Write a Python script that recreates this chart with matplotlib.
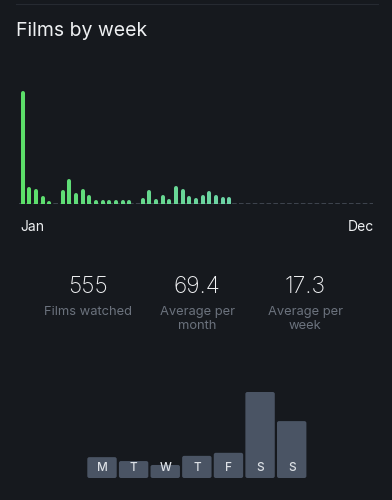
import numpy as np
import matplotlib
matplotlib.use("Agg")
import matplotlib.pyplot as plt
from matplotlib.patches import FancyBboxPatch
from matplotlib.lines import Line2D
from matplotlib.colors import to_rgb

# ---- data ----
weekly_films = [182, 24, 21, 10, 2, 0, 19, 37, 15, 22, 12, 4, 4, 4, 4, 4,
                4, 0, 7, 20, 5, 12, 5, 26, 22, 9, 6, 12, 18, 11, 8, 8]
n_weeks = 53
month_labels = ["Jan", "Dec"]
stat_values = ["555", "69.4", "17.3"]
stat_labels = ["Films watched", "Average per\nmonth", "Average per\nweek"]
days = ["M", "T", "W", "T", "F", "S", "S"]
day_films = [48, 39, 30, 51, 58, 198, 131]

BG = "#16191e"
W, H = 392, 500
fig = plt.figure(figsize=(W / 100, H / 100), dpi=100, facecolor=BG)
FONT = ["Inter", "DejaVu Sans"]

def px_axes(x0, y0, x1, y1):
    # pixel box (top-left origin) -> axes
    return fig.add_axes([x0 / W, 1 - y1 / H, (x1 - x0) / W, (y1 - y0) / H])

# faint separator at top
fig.add_artist(Line2D([16 / W, 378 / W], [1 - 4 / H, 1 - 4 / H], color="#262a31", lw=0.8))

fig.text(16 / W, 1 - 31 / H, "Films by week", color="#eef0f2", fontsize=14,
         family=FONT, va="center", ha="left")

# ---- weekly chart ----
ax = px_axes(19.4, 90, 372.9, 204)
ax.set_facecolor(BG)
vmax = max(weekly_films)
ax.set_xlim(-0.5, n_weeks - 0.5)
ax.set_ylim(0, vmax * 114 / 111.3)
ax.axhline(0, color="#4a515c", lw=1.1, dashes=(3, 1.5), zorder=1)
c0, c1 = np.array(to_rgb("#5cdf69")), np.array(to_rgb("#6dd4a6"))
n = len(weekly_films)
for i, v in enumerate(weekly_films):
    if v <= 0:
        continue
    t = i / (n - 1)
    col = c0 * (1 - t) + c1 * t
    ax.vlines(i, 0, v, colors=[col], lw=2.9, capstyle="round", zorder=2)
for s in ax.spines.values():
    s.set_visible(False)
ax.set_xticks([]); ax.set_yticks([])

fig.text(20 / W, 1 - 227 / H, month_labels[0], color="#eef0f2", fontsize=10,
         family=FONT, va="center", ha="left")
fig.text(374 / W, 1 - 227 / H, month_labels[1], color="#eef0f2", fontsize=10,
         family=FONT, va="center", ha="right")

# ---- stats ----
centers = [88, 197, 305]
for cx, val, lab in zip(centers, stat_values, stat_labels):
    fig.text(cx / W, 1 - 287 / H, val, color="#f2f3f5", fontsize=16.5,
             family=FONT, weight="light", va="center", ha="center")
    fig.text(cx / W, 1 - 306 / H, lab, color="#6b727d", fontsize=9.3,
             family=FONT, va="top", ha="center", linespacing=1.2)

# ---- day of week chart ----
ax2 = px_axes(86.2, 392, 307.5, 478)
ax2.set_facecolor(BG)
ax2.set_xlim(-0.5, len(days) - 0.5)
dmax = max(day_films)
ax2.set_ylim(0, dmax)
bars = ax2.bar(range(len(days)), day_films, width=0.93, color="#4a5464", lw=0)
fig.canvas.draw()
# rounded corners
ypp = dmax / 86.0
xpp = len(days) / 221.3
for b in bars:
    x, y, w, h = b.get_x(), b.get_y(), b.get_width(), b.get_height()
    b.set_visible(False)
    p = FancyBboxPatch((x, y), w, h, boxstyle="round,pad=0,rounding_size=%f" % (2 * xpp),
                       mutation_aspect=ypp / xpp, facecolor="#4a5464", lw=0)
    ax2.add_patch(p)
for i, d in enumerate(days):
    ax2.annotate(d, (i, 0), xytext=(0, 7.3), textcoords="offset points",
                 ha="center", va="center", color="#dde1e6", fontsize=8.5,
                 family=FONT, weight="medium")
for s in ax2.spines.values():
    s.set_visible(False)
ax2.set_xticks([]); ax2.set_yticks([])

fig.savefig("out.png", dpi=100, facecolor=BG)
